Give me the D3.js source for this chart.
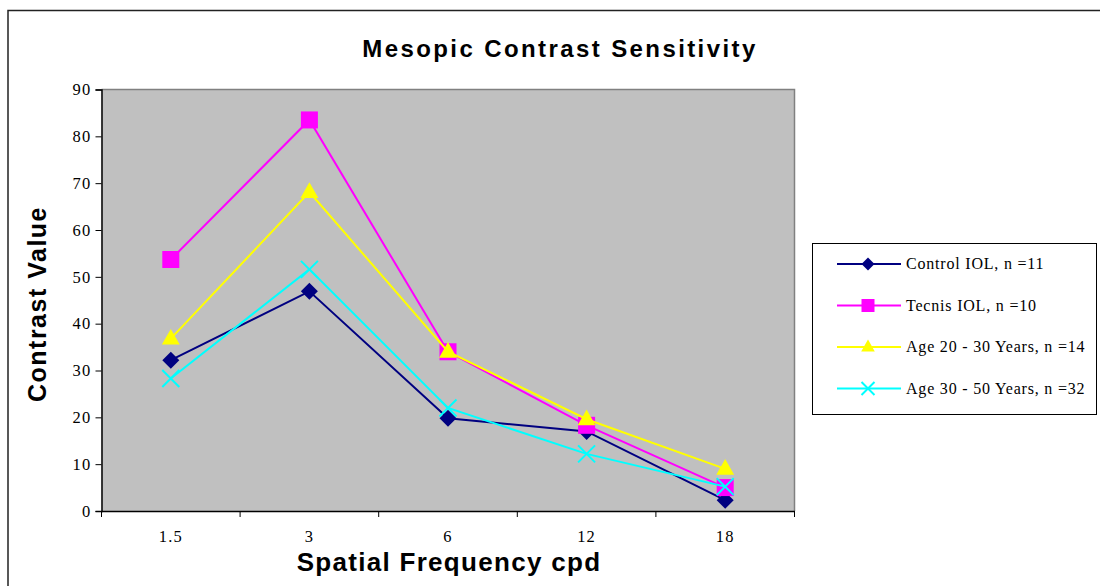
<!DOCTYPE html>
<html><head><meta charset="utf-8">
<script src="https://cdn.jsdelivr.net/npm/d3@7"></script>
<style>body{margin:0;background:#fff}svg{display:block}</style>
</head><body>
<svg id="c" width="1100" height="586"></svg>
<script>
const categories = ["1.5","3","6","12","18"];
const seriesNames = ["Control IOL, n =11","Tecnis IOL, n =10","Age 20 - 30 Years, n =14","Age 30 - 50 Years, n =32"];
const controlIOL = [32.2, 46.9, 19.8, 17.0, 2.3];
const tecnisIOL = [53.7, 83.5, 34.0, 18.3, 5.0];
const age20to30 = [36.8, 68.1, 34.0, 19.6, 9.0];
const age30to50 = [28.3, 51.6, 22.0, 12.2, 5.2];
const yTicks = [0,10,20,30,40,50,60,70,80,90];
const seriesValues = [controlIOL, tecnisIOL, age20to30, age30to50];
const colors = ["#000080","#FF00FF","#FFFF00","#00FFFF"];
const markers = ["diamond","square","triangle","x"];

const svg = d3.select("#c");
svg.append("rect").attr("x",8).attr("y",10.5).attr("width",1200).attr("height",700)
  .attr("fill","none").attr("stroke","#222").attr("stroke-width",1.5);

const L=101.5, R=794.5, T=89.5, B=511;
const x = d3.scaleBand().domain(categories).range([L,R]);
const y = d3.scaleLinear().domain([0,90]).range([B,T]);

svg.append("rect").attr("x",L).attr("y",T).attr("width",R-L).attr("height",B-T).attr("fill","#C0C0C0");
svg.append("path").attr("d",`M${L},${T}H${R}V${B}`).attr("fill","none").attr("stroke","#808080").attr("stroke-width",1.5);

const yAxis = svg.append("g").attr("transform",`translate(${L},0)`)
  .call(d3.axisLeft(y).tickValues(yTicks).tickSize(6).tickPadding(4).tickFormat(d3.format("d")));
const xAxis = svg.append("g").attr("transform",`translate(0,${B})`)
  .call(d3.axisBottom(x).tickSize(0).tickPadding(19));
[yAxis,xAxis].forEach(g=>{
  g.select(".domain").attr("stroke","#000").attr("stroke-width",1.5);
  g.selectAll("line").attr("stroke","#000");
  g.selectAll("text").attr("font-family","Liberation Serif, Times New Roman, serif")
    .attr("font-size",16.5).attr("letter-spacing",1.2).attr("fill","#000");
});
const bounds = categories.map(c=>x(c)).concat([R]);
svg.append("g").selectAll("line").data(bounds).join("line")
  .attr("x1",d=>d).attr("x2",d=>d).attr("y1",B).attr("y2",B+6).attr("stroke","#000");

const cx = (i)=>x(categories[i])+x.bandwidth()/2;
const line = d3.line().x((d,i)=>cx(i)).y(d=>y(d));

function drawMarker(g, type, color, px, py, s){
  if(type==="diamond"){
    g.append("path").attr("d",`M${px},${py-s}L${px+s},${py}L${px},${py+s}L${px-s},${py}Z`).attr("fill",color);
  } else if(type==="square"){
    g.append("rect").attr("x",px-s).attr("y",py-s).attr("width",s*2).attr("height",s*2).attr("fill",color);
  } else if(type==="triangle"){
    g.append("path").attr("d",`M${px},${py-s*1.15}L${px+s*1.05},${py+s*0.7}L${px-s*1.05},${py+s*0.7}Z`).attr("fill",color);
  } else {
    g.append("path").attr("d",`M${px-s},${py-s}L${px+s},${py+s}M${px-s},${py+s}L${px+s},${py-s}`).attr("stroke",color).attr("stroke-width",2).attr("fill","none");
  }
}

seriesValues.forEach((vals,k)=>{
  const g = svg.append("g");
  g.append("path").datum(vals).attr("d",line).attr("fill","none").attr("stroke",colors[k]).attr("stroke-width",2);
  vals.forEach((v,i)=>drawMarker(g, markers[k], colors[k], cx(i), y(v), 8.5));
});

svg.append("text").attr("x",560).attr("y",57).attr("text-anchor","middle")
  .attr("font-family","Liberation Sans, Arial, sans-serif").attr("font-weight","bold").attr("font-size",24)
  .attr("letter-spacing",2.4).text("Mesopic Contrast Sensitivity");
svg.append("text").attr("transform","translate(46,304) rotate(-90)").attr("text-anchor","middle")
  .attr("font-family","Liberation Sans, Arial, sans-serif").attr("font-weight","bold").attr("font-size",25)
  .attr("letter-spacing",1.5).text("Contrast Value");
svg.append("text").attr("x",449).attr("y",571).attr("text-anchor","middle")
  .attr("font-family","Liberation Sans, Arial, sans-serif").attr("font-weight","bold").attr("font-size",26)
  .attr("letter-spacing",1.3).text("Spatial Frequency cpd");

const lg = svg.append("g");
lg.append("rect").attr("x",812.5).attr("y",243.5).attr("width",284).attr("height",171)
  .attr("fill","#fff").attr("stroke","#000").attr("stroke-width",1);
seriesNames.forEach((n,k)=>{
  const ly = 264 + k*41.5;
  lg.append("line").attr("x1",837).attr("x2",901).attr("y1",ly).attr("y2",ly).attr("stroke",colors[k]).attr("stroke-width",2);
  drawMarker(lg, markers[k], colors[k], 868, ly, 6.5);
  lg.append("text").attr("x",906).attr("y",ly+5).attr("font-family","Liberation Serif, Times New Roman, serif")
    .attr("font-size",16).attr("letter-spacing",0.8).attr("fill","#000").text(n);
});
</script>
</body></html>
